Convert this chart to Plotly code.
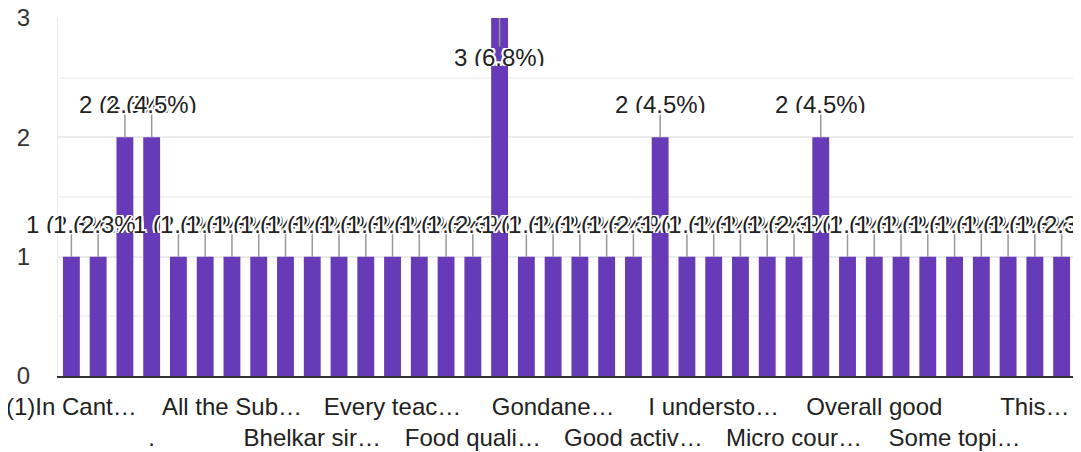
import plotly.graph_objects as go

# Counts per response (38 distinct free-text answers, sorted alphabetically)
counts = [1, 1, 2, 2, 1, 1, 1, 1, 1, 1, 1, 1, 1, 1, 1, 1, 3, 1, 1,
          1, 1, 1, 2, 1, 1, 1, 1, 1, 2, 1, 1, 1, 1, 1, 1, 1, 1, 1]

# Visible (truncated) category labels, shown on every third bar
shown_labels = ["(1)In Cant…", ".", "All the Sub…", "Bhelkar sir…", "Every teac…",
                "Food quali…", "Gondane…", "Good activ…", "I understo…",
                "Micro cour…", "Overall good", "Some topi…", "This…"]
label_step = 3

y_ticks = [0, 1, 2, 3]

BAR_COLOR = "#673ab7"
FONT = "Arial, Liberation Sans, sans-serif"
HALO = ("white 2px 0px 0px, white -2px 0px 0px, white 0px 2px 0px, white 0px -2px 0px, "
        "white 1.5px 1.5px 0px, white -1.5px -1.5px 0px, white 1.5px -1.5px 0px, white -1.5px 1.5px 0px")

total = sum(counts)
x_pos = list(range(len(counts)))

fig = go.Figure(go.Bar(x=x_pos, y=counts, marker_color=BAR_COLOR,
                       marker_line_width=0, hoverinfo="skip"))

ymax = max(y_ticks)
for i, v in enumerate(counts):
    txt = f"{v} ({v / total * 100:.1f}%)"
    inside = v >= ymax
    fig.add_annotation(
        x=i, y=v, xref="x", yref="y", text=txt,
        showarrow=True, arrowhead=0, arrowwidth=1.5, arrowcolor="#999999",
        ax=0, ay=(39 if inside else -33), height=18,
        font=dict(family=FONT, size=24, color="#222222", shadow=HALO),
    )

tickvals = x_pos[::label_step][:len(shown_labels)]
ticktext = [(lab if k % 2 == 0 else "<br>" + lab) for k, lab in enumerate(shown_labels)]

fig.update_layout(
    width=1081, height=452,
    margin=dict(l=50, r=14, t=10, b=84, autoexpand=False),
    paper_bgcolor="white", plot_bgcolor="white",
    showlegend=False, bargap=0.37,
    font=dict(family=FONT, size=24, color="#333333"),
    xaxis=dict(range=[-0.5, len(counts) - 0.5], tickmode="array",
               tickvals=tickvals, ticktext=ticktext, showgrid=False,
               showline=True, linecolor="#333333", linewidth=2,
               ticks="", tickangle=0, automargin=False, ticklabelstandoff=8,
               ticklabeloverflow="allow",
               tickfont=dict(size=24, color="#222222")),
    yaxis=dict(range=[0, ymax], tickmode="array", tickvals=y_ticks,
               showgrid=True, gridcolor="#ebebeb", gridwidth=1.5,
               minor=dict(dtick=0.5, showgrid=True, gridcolor="#f4f4f4"),
               zeroline=False, showline=True, linecolor="#ebebeb", mirror=True,
               ticks="", ticklabelstandoff=22, automargin=False,
               ticklabeloverflow="allow",
               tickfont=dict(size=24, color="#333333")),
)

fig.write_html("out.html")
